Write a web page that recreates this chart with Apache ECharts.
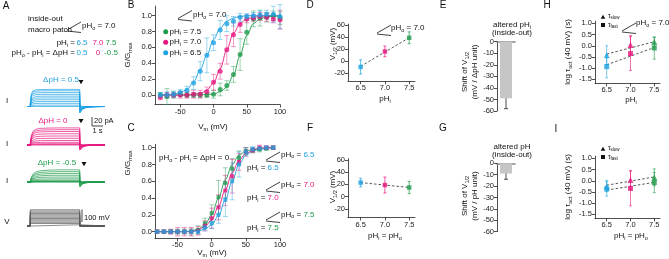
<!DOCTYPE html>
<html>
<head>
<meta charset="utf-8">
<script src="https://cdn.jsdelivr.net/npm/echarts@6.0.0/dist/echarts.min.js"></script>
<style>
html, body { margin: 0; padding: 0; background: #fff; }
#fig { width: 669px; height: 259px; }
</style>
</head>
<body>
<div id="fig"></div>
<script>
var CY = '#1ea2e2', MG = '#e6187f', GR = '#1f9b4c';
var COLS = [CY, MG, GR];
var FONT = '"Liberation Sans", Arial, Helvetica, sans-serif';

// ---- A: macro patch current traces (time in s, current in pA) ----
var T_A = [0, 0.3, 0.31, 0.4, 0.55, 0.8, 1.2, 2.0, 3.0, 4.0, 4.8, 4.81, 4.9, 5.05, 5.3, 5.7, 6.2, 7.1];
var SHAPE_CY = [0, 0, 0.25, 0.75, 0.92, 0.97, 0.99, 1, 1, 1, 1, -0.38, -0.27, -0.16, -0.08, -0.03, -0.01, 0];
var SHAPE_MG = [0, 0, 0.15, 0.55, 0.8, 0.92, 0.97, 0.99, 1, 1, 1, -0.3, -0.22, -0.13, -0.06, -0.02, -0.01, 0];
var SHAPE_GR = [0, 0, 0.1, 0.4, 0.65, 0.82, 0.92, 0.98, 1, 1, 1, -0.42, -0.3, -0.17, -0.08, -0.03, -0.01, 0];
var AMP_CY = [0, 3, 7, 11, 15, 19, 23, 27, 31, 35, 38];
var AMP_MG = [0, 1, 3, 6, 10, 15, 20, 25, 30, 34, 38];
var AMP_GR = [0, 0.5, 1, 2, 4, 7, 11, 15, 19, 23, 27];
var T_V = [0, 0.3, 0.3, 4.8, 4.8, 7.1];
var V_HOLD = -80;
var V_STEPS = [-70, -60, -50, -40, -30, -20, -10, 0, 10, 20, 30, 40, 50];

// ---- B: G/Gmax vs Vm, pHo 7.0 ----
var B_V = [-80, -70, -60, -50, -40, -30, -20, -10, 0, 10, 20, 30, 40, 50, 60, 70, 80, 90, 100];
var B_GR = [0.0, -0.02, 0.0, 0.01, 0.0, 0.0, 0.0, 0.0, 0.01, 0.07, 0.12, 0.26, 0.51, 0.79, 0.96, 0.97, 0.98, 1.0, 0.97];
var B_GR_ERR = [0.03, 0.1, 0.04, 0.03, 0.03, 0.03, 0.03, 0.03, 0.05, 0.08, 0.06, 0.1, 0.2, 0.15, 0.1, 0.1, 0.06, 0.06, 0.08];
var B_MG = [-0.03, 0.0, 0.0, 0.0, 0.0, 0.01, 0.01, 0.04, 0.16, 0.3, 0.57, 0.76, 0.89, 0.96, 0.97, 0.99, 0.98, 0.96, 0.95];
var B_MG_ERR = [0.03, 0.03, 0.03, 0.04, 0.04, 0.05, 0.05, 0.06, 0.1, 0.1, 0.18, 0.15, 0.1, 0.05, 0.04, 0.05, 0.05, 0.05, 0.12];
var B_CY = [0.0, 0.0, 0.01, 0.03, 0.06, 0.15, 0.3, 0.5, 0.66, 0.82, 0.9, 0.93, 0.98, 0.99, 1.0, 1.01, 1.02, 1.02, 0.99];
var B_CY_ERR = [0.03, 0.04, 0.04, 0.04, 0.05, 0.08, 0.12, 0.22, 0.1, 0.12, 0.1, 0.06, 0.05, 0.04, 0.04, 0.05, 0.05, 0.1, 0.15];
var B_GR_FIT = [0, 0, 0, 0, 0, 0, 0, 0.01, 0.01, 0.04, 0.1, 0.25, 0.5, 0.75, 0.9, 0.96, 0.99, 0.99, 1.0];
var B_MG_FIT = [0, 0, 0, 0, 0, 0.01, 0.02, 0.06, 0.15, 0.33, 0.57, 0.78, 0.9, 0.96, 0.98, 0.99, 1, 1, 1];
var B_CY_FIT = [0, 0, 0.01, 0.03, 0.07, 0.16, 0.32, 0.5, 0.7, 0.84, 0.93, 0.97, 0.99, 1, 1, 1, 1, 1, 1];

// ---- C: G/Gmax vs Vm, dpH = 0 ----
var C_V = [-80, -70, -60, -50, -40, -30, -20, -10, 0, 10, 20, 30, 40, 50, 60, 70, 80, 90];
var C_GR = [0, 0, 0, 0, 0, 0, 0.02, 0.1, 0.22, 0.41, 0.58, 0.75, 0.88, 0.96, 0.97, 0.98, 0.99, 1.0];
var C_GR_ERR = [0.02, 0.02, 0.02, 0.03, 0.03, 0.04, 0.05, 0.06, 0.1, 0.2, 0.18, 0.12, 0.08, 0.04, 0.03, 0.03, 0.02, 0.02];
var C_MG = [0, 0, 0, 0, 0, 0, 0.01, 0.07, 0.16, 0.29, 0.49, 0.66, 0.83, 0.95, 0.97, 1.0, 1.0, 1.0];
var C_MG_ERR = [0.02, 0.02, 0.03, 0.05, 0.05, 0.05, 0.05, 0.06, 0.12, 0.15, 0.18, 0.2, 0.1, 0.05, 0.03, 0.03, 0.02, 0.02];
var C_CY = [0, 0, 0, 0, 0, 0, 0, 0.05, 0.1, 0.2, 0.38, 0.6, 0.8, 0.95, 0.98, 0.99, 1.0, 1.0];
var C_CY_ERR = [0.01, 0.01, 0.02, 0.02, 0.02, 0.02, 0.02, 0.04, 0.06, 0.1, 0.2, 0.22, 0.15, 0.05, 0.03, 0.02, 0.02, 0.01];
var C_GR_FIT = [0, 0, 0, 0, 0, 0.01, 0.03, 0.08, 0.2, 0.4, 0.62, 0.8, 0.91, 0.96, 0.98, 0.99, 1, 1];
var C_MG_FIT = [0, 0, 0, 0, 0, 0, 0.02, 0.06, 0.14, 0.3, 0.5, 0.7, 0.85, 0.93, 0.97, 0.99, 1, 1];
var C_CY_FIT = [0, 0, 0, 0, 0, 0, 0.01, 0.03, 0.08, 0.19, 0.38, 0.6, 0.8, 0.91, 0.96, 0.98, 0.99, 1];

// ---- D / F: V1/2 ----
var PH = [6.5, 7.0, 7.5];
var D_V12 = [-10, 16, 39];
var D_ERR = [12, 9, 10];
var D_FIT = [-9, 39];
var F_V12 = [23, 19, 15];
var F_ERR = [7, 13, 10];
var F_FIT = [23, 15];

// ---- E / G: shift of V1/2 ----
var E_SHIFT = -49, E_ERR = 9;
var G_SHIFT = -9, G_ERR = 5;

// ---- H / I: log tau act ----
var H_SLOW = [-0.42, 0.03, 0.17], H_SLOW_ERR = [0.42, 0.42, 0.2];
var H_FAST = [-0.93, -0.35, -0.1], H_FAST_ERR = [0.5, 0.75, 0.5];
var H_SLOW_FIT = [-0.37, 0.18], H_FAST_FIT = [-0.85, -0.08];
var I_SLOW = [-0.24, 0.03, 0.15], I_SLOW_ERR = [0.25, 0.42, 0.38];
var I_FAST = [-0.37, -0.34, -0.08], I_FAST_ERR = [0.32, 0.78, 0.45];
var I_SLOW_FIT = [-0.2, 0.17], I_FAST_FIT = [-0.42, -0.07];

var chart = echarts.init(document.getElementById('fig'), null, {renderer: 'canvas'});

function pts(xs, ys) { return xs.map(function (x, i) { return [x, ys[i]]; }); }
function errs(xs, ys, es) { return xs.map(function (x, i) { return [x, ys[i] - es[i], ys[i] + es[i]]; }); }
function fix1(v) { return v.toFixed(1); }
function int0(v) { return String(Math.round(v)); }

function vAxis(gi, min, max, ticks, fmt) {
    return {
        type: 'value', gridIndex: gi, min: min, max: max,
        axisLine: {show: true, onZero: false, lineStyle: {color: '#222', width: 0.8}},
        axisTick: {show: true, length: 3, customValues: ticks, lineStyle: {color: '#222', width: 0.8}},
        axisLabel: {show: true, customValues: ticks, fontSize: 7.5, fontFamily: FONT, color: '#222', margin: 3, formatter: fmt},
        splitLine: {show: false}
    };
}
function hidden(gi, min, max) {
    return {type: 'value', gridIndex: gi, min: min, max: max, show: false, splitLine: {show: false}};
}
function catTop(gi) {
    return {
        type: 'category', gridIndex: gi, data: ['io'], position: 'top',
        axisLine: {show: true, onZero: false, lineStyle: {color: '#8a8a8a', width: 1.6}},
        axisTick: {show: false}, axisLabel: {show: false}, splitLine: {show: false}
    };
}

function errBar(gi, data, color, cap, op) {
    return {
        type: 'custom', xAxisIndex: gi, yAxisIndex: gi, data: data, silent: true, z: 2,
        encode: {x: 0, y: [1, 2]},
        renderItem: function (params, api) {
            var c = typeof color === 'function' ? color(params.dataIndex) : color;
            var x = api.value(0);
            var a = api.coord([x, api.value(1)]), b = api.coord([x, api.value(2)]);
            function st() { return {stroke: c, lineWidth: 0.8, opacity: op}; }
            return {type: 'group', children: [
                {type: 'line', shape: {x1: a[0], y1: a[1], x2: b[0], y2: b[1]}, style: st()},
                {type: 'line', shape: {x1: a[0] - cap, y1: a[1], x2: a[0] + cap, y2: a[1]}, style: st()},
                {type: 'line', shape: {x1: b[0] - cap, y1: b[1], x2: b[0] + cap, y2: b[1]}, style: st()}
            ]};
        }
    };
}
function fitLine(gi, xs, ys, color, dashed) {
    return {
        type: 'line', xAxisIndex: gi, yAxisIndex: gi, data: pts(xs, ys), symbol: 'none',
        smooth: dashed ? false : 0.35, smoothMonotone: 'x', silent: true, z: 1,
        lineStyle: {color: color, width: 0.9, type: dashed ? [2.5, 2] : 'solid'}
    };
}
function dots(gi, xs, ys, color, sym, size) {
    return {
        type: 'scatter', xAxisIndex: gi, yAxisIndex: gi, data: pts(xs, ys), symbol: sym, symbolSize: size,
        silent: true, z: 3,
        itemStyle: {color: typeof color === 'function' ? function (p) { return color(p.dataIndex); } : color}
    };
}
function byIdx(i) { return COLS[i]; }

function traces(gi, amps, shape, color) {
    return amps.map(function (a) {
        return {
            type: 'line', xAxisIndex: gi, yAxisIndex: gi, symbol: 'none', silent: true,
            data: T_A.map(function (t, i) { return [t, shape[i] * a]; }),
            lineStyle: {color: color, width: 0.7}
        };
    });
}

var series = [];
// B
[[B_GR, B_GR_ERR, B_GR_FIT, GR], [B_MG, B_MG_ERR, B_MG_FIT, MG], [B_CY, B_CY_ERR, B_CY_FIT, CY]].forEach(function (s) {
    series.push(fitLine(0, B_V, s[2], s[3], false));
    series.push(errBar(0, errs(B_V, s[0], s[1]), s[3], 2.5, 0.55));
    series.push(dots(0, B_V, s[0], s[3], 'circle', 5));
});
// C
[[C_GR, C_GR_ERR, C_GR_FIT, GR], [C_MG, C_MG_ERR, C_MG_FIT, MG], [C_CY, C_CY_ERR, C_CY_FIT, CY]].forEach(function (s) {
    series.push(fitLine(1, C_V, s[2], s[3], false));
    series.push(errBar(1, errs(C_V, s[0], s[1]), s[3], 2.5, 0.55));
    series.push(dots(1, C_V, s[0], s[3], 'rect', 4));
});
// D, F
series.push(fitLine(2, [6.5, 7.5], D_FIT, '#444', true));
series.push(errBar(2, errs(PH, D_V12, D_ERR), byIdx, 1.5, 0.9));
series.push(dots(2, PH, D_V12, byIdx, 'rect', 4.5));
series.push(fitLine(3, [6.5, 7.5], F_FIT, '#444', true));
series.push(errBar(3, errs(PH, F_V12, F_ERR), byIdx, 1.5, 0.9));
series.push(dots(3, PH, F_V12, byIdx, 'rect', 4.5));
// E, G
series.push({type: 'bar', xAxisIndex: 4, yAxisIndex: 4, data: [E_SHIFT], barWidth: 12, silent: true, itemStyle: {color: '#c6c6c6'}});
series.push(errBar(4, [[0, E_SHIFT - E_ERR, E_SHIFT + E_ERR]], '#222', 2, 1));
series.push({type: 'bar', xAxisIndex: 5, yAxisIndex: 5, data: [G_SHIFT], barWidth: 12, silent: true, itemStyle: {color: '#c6c6c6'}});
series.push(errBar(5, [[0, G_SHIFT - G_ERR, G_SHIFT + G_ERR]], '#222', 2, 1));
// H, I
[[6, H_SLOW, H_SLOW_ERR, H_FAST, H_FAST_ERR, H_SLOW_FIT, H_FAST_FIT],
 [7, I_SLOW, I_SLOW_ERR, I_FAST, I_FAST_ERR, I_SLOW_FIT, I_FAST_FIT]].forEach(function (s) {
    series.push(fitLine(s[0], [6.5, 7.5], s[5], '#444', true));
    series.push(fitLine(s[0], [6.5, 7.5], s[6], '#444', true));
    series.push(errBar(s[0], errs(PH, s[1], s[2]), byIdx, 1.5, 0.75));
    series.push(errBar(s[0], errs(PH, s[3], s[4]), byIdx, 1.5, 0.75));
    series.push(dots(s[0], PH, s[1], byIdx, 'triangle', 6));
    series.push(dots(s[0], PH, s[3], byIdx, 'rect', 5));
});
// A
series = series.concat(traces(8, AMP_CY, SHAPE_CY, CY));
series = series.concat(traces(9, AMP_MG, SHAPE_MG, MG));
series = series.concat(traces(10, AMP_GR, SHAPE_GR, GR));
V_STEPS.forEach(function (v) {
    var lv = [V_HOLD, V_HOLD, v, v, V_HOLD, V_HOLD];
    series.push({type: 'line', xAxisIndex: 11, yAxisIndex: 11, symbol: 'none', silent: true,
        data: pts(T_V, lv), lineStyle: {color: '#5a5a5a', width: 0.7}});
});

// ---- text and annotation graphics ----
var RICH = {
    n: {fontSize: 8, fontFamily: FONT, fill: '#111', color: '#111', lineHeight: 10, verticalAlign: 'middle'},
    s: {fontSize: 5.5, fontFamily: FONT, fill: '#111', color: '#111', lineHeight: 10, verticalAlign: 'bottom'},
    c: {fontSize: 8, fontFamily: FONT, fill: CY, color: CY, lineHeight: 10, verticalAlign: 'middle'},
    m: {fontSize: 8, fontFamily: FONT, fill: MG, color: MG, lineHeight: 10, verticalAlign: 'middle'},
    g: {fontSize: 8, fontFamily: FONT, fill: GR, color: GR, lineHeight: 10, verticalAlign: 'middle'},
    ns: {fontSize: 6.5, fontFamily: FONT, fill: '#111', color: '#111', lineHeight: 9, verticalAlign: 'middle'},
    ss: {fontSize: 4.5, fontFamily: FONT, fill: '#111', color: '#111', lineHeight: 9, verticalAlign: 'bottom'}
};
var G = [];
function txt(x, y, s, o) {
    o = o || {};
    G.push({type: 'text', x: x, y: y, rotation: o.rot || 0, silent: true,
        style: {text: s, rich: RICH, fontSize: o.size || 8, fontFamily: FONT, fill: o.fill || '#111',
            align: o.align || 'left', verticalAlign: 'middle'}});
}
function seg(x1, y1, x2, y2, c, w) {
    G.push({type: 'line', silent: true, shape: {x1: x1, y1: y1, x2: x2, y2: y2}, style: {stroke: c || '#111', lineWidth: w || 0.8}});
}
function wedge(x, y) { seg(x, y, x + 14, y - 8); seg(x, y + 1, x + 14, y + 2.5); }
function arrowDown(x, y) {
    G.push({type: 'polygon', silent: true, shape: {points: [[x - 2.5, y - 2], [x + 2.5, y - 2], [x, y + 2.2]]}, style: {fill: '#111'}});
}
function triUp(x, y) {
    G.push({type: 'polygon', silent: true, shape: {points: [[x, y - 2.3], [x - 2.3, y + 1.8], [x + 2.3, y + 1.8]]}, style: {fill: '#111'}});
}
function sq(x, y) { G.push({type: 'rect', silent: true, shape: {x: x - 2, y: y - 2, width: 4, height: 4}, style: {fill: '#111'}}); }
function dot(x, y, c) { G.push({type: 'circle', silent: true, shape: {cx: x, cy: y, r: 2.5}, style: {fill: c}}); }
var ROT = Math.PI / 2;

// panel letters
[['A', 6, 6], ['B', 131, 5], ['C', 131, 128], ['D', 310, 5], ['E', 443, 5], ['F', 310, 128],
 ['G', 443, 128], ['H', 547, 5], ['I', 556, 129]].forEach(function (l) {
    txt(l[1], l[2], l[0], {size: 10, align: 'center'});
});

// A annotations
txt(28, 19, 'inside-out');
txt(28, 30, 'macro patch');
wedge(67, 30);
txt(82, 26, '{n|pH}{s|o}{n| = 7.0}');
txt(75, 43, '{n|pH}{s|i}{n| =}', {align: 'right'});
txt(82, 43, '{c|6.5}', {align: 'center'});
txt(98, 43, '{m|7.0}', {align: 'center'});
txt(111, 43, '{g|7.5}', {align: 'center'});
txt(75, 53, '{n|pH}{s|o}{n| - pH}{s|i}{n| = ΔpH =}', {align: 'right'});
txt(82, 53, '{c|0.5}', {align: 'center'});
txt(98, 53, '{m|0}', {align: 'center'});
txt(111, 53, '{g|-0.5}', {align: 'center'});
txt(61, 80, '{c|ΔpH = 0.5}', {align: 'center'});
arrowDown(81, 82);
txt(53, 121, '{m|ΔpH = 0}', {align: 'center'});
arrowDown(81, 121);
txt(57, 163, '{g|ΔpH = -0.5}', {align: 'center'});
arrowDown(84, 164);
txt(7, 101, 'I', {align: 'center'});
txt(7, 144, 'I', {align: 'center'});
txt(7, 181, 'I', {align: 'center'});
txt(7, 222, 'V', {align: 'center'});
seg(92, 117, 92, 126);
seg(92, 126, 103, 126);
txt(94, 121, '20 pA', {size: 7.5});
txt(97.5, 131, '1 s', {size: 7.5, align: 'center'});
seg(82, 209.5, 82, 222);
txt(84, 218, '100 mV', {size: 7.5});

// B annotations
wedge(178, 18.5);
txt(193, 15, '{n|pH}{s|o}{n| = 7.0}');
dot(165.7, 31.7, GR); txt(169.5, 31.7, '{n|pH}{s|i}{n| = 7.5}');
dot(165.7, 42.2, MG); txt(169.5, 42.2, '{n|pH}{s|i}{n| = 7.0}');
dot(165.7, 52.7, CY); txt(169.5, 52.7, '{n|pH}{s|i}{n| = 6.5}');
txt(128, 55, '{n|G/G}{s|max}', {rot: ROT, align: 'center'});
txt(213, 127, '{n|V}{s|m}{n| (mV)}', {align: 'center'});

// C annotations
txt(159, 158, '{n|pH}{s|o}{n| - pH}{s|i}{n| = ΔpH = 0}');
[[160, '{c|6.5}'], [190, '{m|7.0}'], [220, '{g|7.5}']].forEach(function (g) {
    wedge(266, g[0]);
    txt(281, g[0] - 5.5, '{n|pH}{s|o}{n| = }' + g[1]);
    txt(247, g[0] + 8, '{n|pH}{s|i}{n| = }' + g[1]);
});
txt(128, 163, '{n|G/G}{s|max}', {rot: ROT, align: 'center'});
txt(212, 253, '{n|V}{s|m}{n| (mV)}', {align: 'center'});

// D / F annotations
wedge(377, 33);
txt(391, 28, '{n|pH}{s|o}{n| = 7.0}');
txt(333, 44, '{n|V}{s|1/2}{n| (mV)}', {rot: ROT, align: 'center'});
txt(385, 99, '{n|pH}{s|i}', {align: 'center'});
txt(333, 187, '{n|V}{s|1/2}{n| (mV)}', {rot: ROT, align: 'center'});
txt(385, 236, '{n|pH}{s|i}{n| = pH}{s|o}', {align: 'center'});

// E / G annotations
txt(512, 25, '{n|altered pH}{s|i}', {align: 'center'});
txt(512, 33, '(inside-out)', {align: 'center'});
txt(470, 72, '{n|Shift of V}{s|1/2}\n{n|(mV / ΔpH unit)}', {rot: ROT, align: 'center'});
txt(512, 147, 'altered pH', {align: 'center'});
txt(512, 155, '(inside-out)', {align: 'center'});
txt(470, 196, '{n|Shift of V}{s|1/2}\n{n|(mV / pH unit)}', {rot: ROT, align: 'center'});

// H / I annotations
triUp(603, 17); txt(608, 16, '{ns|τ}{ss|slow}');
sq(603, 25); txt(608, 25, '{ns|τ}{ss|fast}');
wedge(622, 31);
txt(636, 23, '{n|pH}{s|o}{n| = 7.0}');
txt(568, 52, '{n|log τ}{s|act}{n| (40 mV) (s)}', {rot: ROT, align: 'center'});
txt(631, 100, '{n|pH}{s|i}', {align: 'center'});
triUp(603, 149); txt(608, 148, '{ns|τ}{ss|slow}');
sq(603, 157); txt(608, 157, '{ns|τ}{ss|fast}');
txt(568, 187, '{n|log τ}{s|act}{n| (40 mV) (s)}', {rot: ROT, align: 'center'});
txt(631, 236, '{n|pH}{s|i}{n| = pH}{s|o}', {align: 'center'});

function grid(l, t, w, h) { return {left: l, top: t, width: w, height: h, containLabel: false, outerBoundsMode: 'none'}; }

var option = {
    animation: false,
    backgroundColor: '#fff',
    grid: [
        grid(155, 6.2, 125, 98.3),   // B
        grid(155, 144.3, 125, 94.1), // C
        grid(348, 24.1, 67, 57.1),   // D
        grid(348, 158.7, 67, 58.8),  // F
        grid(497, 41.7, 18, 69.3),   // E
        grid(497, 163.3, 18, 68.4),  // G
        grid(595, 21.1, 65, 62.3),   // H
        grid(595, 156.1, 65, 62.3),  // I
        grid(27, 84.9, 78, 31.5),    // A cyan
        grid(27, 123.4, 78, 31.5),   // A magenta
        grid(27, 160.4, 78, 31.5),   // A green
        grid(27, 207.25, 78, 21.25)  // A voltage
    ],
    xAxis: [
        vAxis(0, -88, 100, [-50, 0, 50, 100], int0),
        vAxis(1, -83, 100, [-50, 0, 50, 100], int0),
        vAxis(2, 6.24, 7.62, PH, fix1),
        vAxis(3, 6.24, 7.62, PH, fix1),
        catTop(4),
        catTop(5),
        vAxis(6, 6.254, 7.62, PH, fix1),
        vAxis(7, 6.254, 7.62, PH, fix1),
        hidden(8, 0, 7.1), hidden(9, 0, 7.1), hidden(10, 0, 7.1), hidden(11, 0, 7.1)
    ],
    yAxis: [
        vAxis(0, -0.12, 1.12, [0, 0.2, 0.4, 0.6, 0.8, 1.0], fix1),
        vAxis(1, -0.08, 1.04, [0, 0.2, 0.4, 0.6, 0.8, 1.0], fix1),
        vAxis(2, -34, 62, [-20, 0, 20, 40, 60], int0),
        vAxis(3, -34, 62, [-20, 0, 20, 40, 60], int0),
        vAxis(4, -60, 0, [0, -10, -20, -30, -40, -50, -60], int0),
        vAxis(5, -60, 0, [0, -10, -20, -30, -40, -50, -60], int0),
        vAxis(6, -1.68, 1.1, [-1.5, -1, -0.5, 0, 0.5, 1], fix1),
        vAxis(7, -1.68, 1.1, [-1.5, -1, -0.5, 0, 0.5, 1], fix1),
        hidden(8, -22, 48), hidden(9, -22, 48), hidden(10, -22, 48), hidden(11, -100, 70)
    ],
    graphic: G,
    series: series
};
chart.setOption(option);
</script>
</body>
</html>
